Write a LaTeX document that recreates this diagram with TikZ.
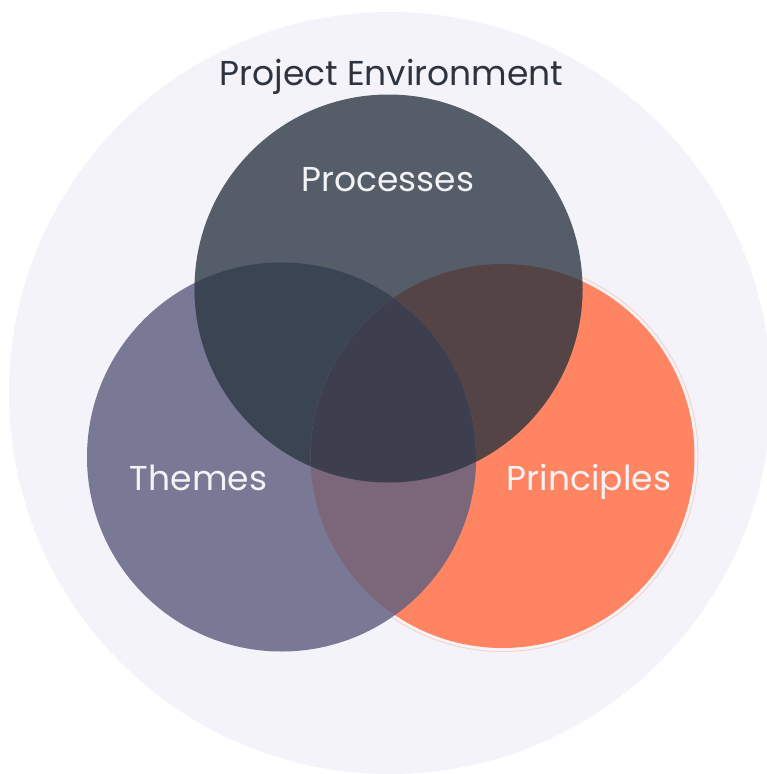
\documentclass[tikz,border=0pt]{standalone}
\usepackage{fontspec}
\setmainfont{Poppins}
\definecolor{envbg}{HTML}{F4F3F9}
\definecolor{procfill}{HTML}{555D69}
\definecolor{themfill}{HTML}{7A7995}
\definecolor{prinfill}{HTML}{FF8461}
\definecolor{prinring}{HTML}{F7D2C6}
\definecolor{procthem}{HTML}{3A4453}
\definecolor{procprin}{HTML}{554446}
\definecolor{themprin}{HTML}{7C6679}
\definecolor{allthree}{HTML}{3D3F4E}
\definecolor{titletxt}{HTML}{2D3440}
\definecolor{labeltxt}{HTML}{F3F3F6}

\begin{document}
\begin{tikzpicture}[
    x=1pt, y=-1pt,
    tag/.style={font=\fontsize{34.5}{40}\selectfont, anchor=base},
  ]
  \useasboundingbox (0,0) rectangle (767,774);

  \def\rproc{194pt}
  \def\rthem{194.5pt}
  \def\rprin{192pt}

  \coordinate (env) at (390,393);
  \coordinate (proc) at (388.5,288.5);
  \coordinate (them) at (281.5,457);
  \coordinate (prin) at (502.5,456);

  % project environment
  \fill[envbg] (env) circle (381pt);
  \node[tag, text=titletxt] (envlbl) at (391.5,85) {Project Environment};

  % the three sets
  \draw[prinring, line width=0.9pt] (prin) circle (195.5pt);
  \fill[prinfill] (prin) circle (\rprin);
  \fill[themfill] (them) circle (\rthem);
  \fill[procfill] (proc) circle (\rproc);

  % pairwise overlaps
  \begin{scope}
    \clip (proc) circle (\rproc);
    \fill[procthem] (them) circle (\rthem);
    \fill[procprin] (prin) circle (\rprin);
  \end{scope}
  \begin{scope}
    \clip (them) circle (\rthem);
    \fill[themprin] (prin) circle (\rprin);
  \end{scope}
  % all three
  \begin{scope}
    \clip (proc) circle (\rproc);
    \clip (them) circle (\rthem);
    \fill[allthree] (prin) circle (\rprin);
  \end{scope}

  \node[tag, text=labeltxt] (proclbl) at (388,191) {Processes};
  \node[tag, text=labeltxt] (themlbl) at (198.5,490) {Themes};
  \node[tag, text=labeltxt] (prinlbl) at (589,490) {Principles};

\end{tikzpicture}
\end{document}
